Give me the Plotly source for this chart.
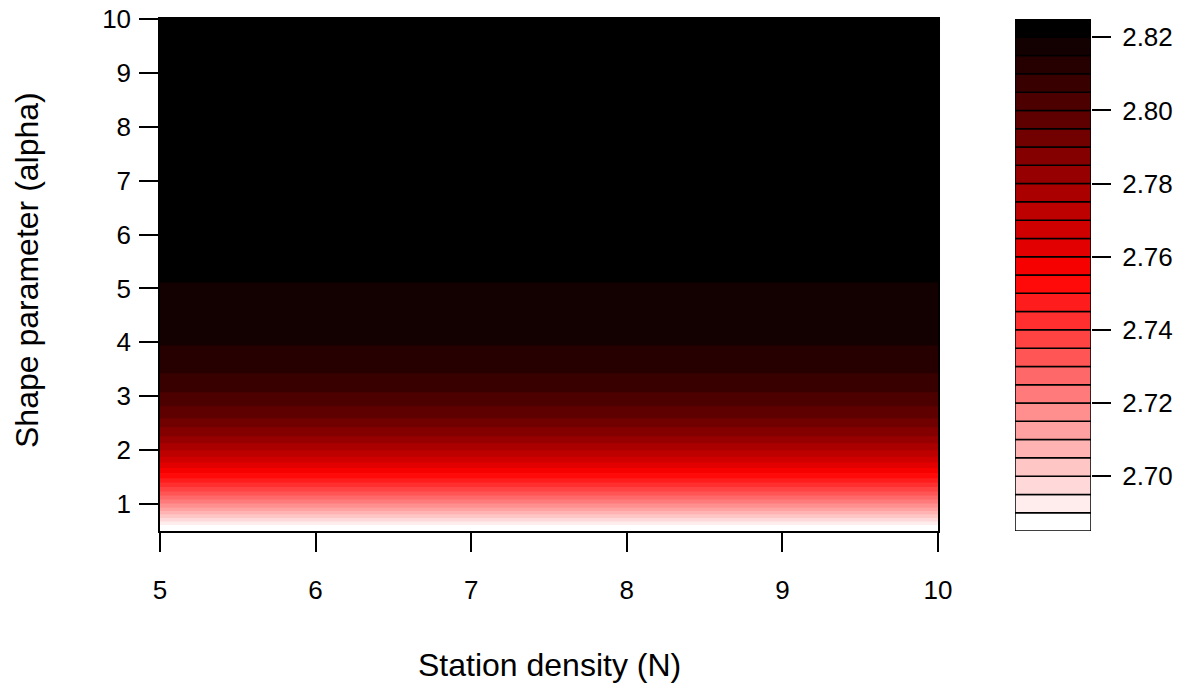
import plotly.graph_objects as go

# ---- data ----
station_density = [5, 6, 7, 8, 9, 10]
alpha = [0.5, 0.611, 0.676, 0.741, 0.806, 0.870, 0.935, 1.009, 1.083, 1.157,
         1.231, 1.315, 1.398, 1.481, 1.574, 1.667, 1.769, 1.880, 2.000, 2.130,
         2.259, 2.426, 2.593, 2.815, 3.074, 3.426, 3.944, 5.111, 6.0, 8.0, 10.0]
value = [2.6865, 2.690, 2.695, 2.700, 2.705, 2.710, 2.715, 2.720, 2.725, 2.730,
         2.735, 2.740, 2.745, 2.750, 2.755, 2.760, 2.765, 2.770, 2.775, 2.780,
         2.785, 2.790, 2.795, 2.800, 2.805, 2.810, 2.815, 2.820, 2.8215, 2.8228, 2.8235]
level_start, level_end, level_step = 2.685, 2.825, 0.005
key_ticks = [2.70, 2.72, 2.74, 2.76, 2.78, 2.80, 2.82]
x_ticks = [5, 6, 7, 8, 9, 10]
y_ticks = [1, 2, 3, 4, 5, 6, 7, 8, 9, 10]

# ---- palette: white -> red -> black ----
nbins = int(round((level_end - level_start) / level_step))
def ramp(t):
    if t <= 0.5:
        g = 255 * (1 - 2 * t)
        return (255, g, g)
    r = 255 * (2 - 2 * t)
    return (r, 0, 0)
colors = ['rgb(%d,%d,%d)' % tuple(int(round(c)) for c in ramp(i / (nbins - 1))) for i in range(nbins)]
colorscale = [[i / (nbins - 1), colors[i]] for i in range(nbins)]

z = [[v for _ in station_density] for v in value]

W, H = 1201, 686
FONT = "Liberation Sans, Arial, sans-serif"
FS_TITLE = 32
FS_TICK = 26

def px_x(p):
    return p / W
def px_y(p):
    return 1 - p / H

fig = go.Figure()
fig.add_trace(go.Contour(
    x=station_density, y=alpha, z=z,
    autocontour=False,
    contours=dict(start=level_start + level_step, end=level_end - level_step,
                  size=level_step, coloring='fill', showlines=False),
    line=dict(width=0),
    colorscale=colorscale, showscale=False, hoverinfo='skip',
    xaxis='x', yaxis='y'))

# key (colour legend)
levels = [level_start + i * level_step for i in range(nbins)]
fig.add_trace(go.Bar(
    x=[0] * nbins, y=[level_step] * nbins, base=levels, width=1,
    marker=dict(color=colors, line=dict(color='black', width=1.5)),
    xaxis='x2', yaxis='y2', hoverinfo='skip', showlegend=False))

axis_common = dict(showline=True, linecolor='black', linewidth=1.5, mirror=True,
                   ticks='outside', ticklen=19, tickwidth=1.5, tickcolor='black',
                   showgrid=False, zeroline=False, automargin=False,
                   tickfont=dict(family=FONT, size=FS_TICK, color='black'))

fig.update_layout(
    width=W, height=H, autosize=False,
    margin=dict(l=0, r=0, t=0, b=0, pad=0, autoexpand=False),
    paper_bgcolor='white', plot_bgcolor='white',
    showlegend=False, barmode='overlay',
    xaxis=dict(domain=[px_x(160), px_x(938)], range=[5, 10], tickvals=x_ticks,
               ticklabelstandoff=16, anchor='y', **axis_common),
    yaxis=dict(domain=[px_y(531), px_y(19)], range=[0.5, 10], tickvals=y_ticks,
               ticklabelstandoff=3, anchor='x', **axis_common),
    xaxis2=dict(domain=[px_x(1015), px_x(1091)], range=[-0.5, 0.5], anchor='y2',
                showticklabels=False, ticks='', showline=False, showgrid=False, zeroline=False),
    yaxis2=dict(domain=[px_y(531), px_y(19)], range=[level_start, level_end], anchor='x2',
                side='right', tickvals=key_ticks, tickformat='.2f', automargin=False,
                showline=False, ticks='outside', ticklen=19, tickwidth=1.5, tickcolor='black',
                ticklabelstandoff=6, showgrid=False, zeroline=False,
                tickfont=dict(family=FONT, size=FS_TICK, color='black')),
    annotations=[
        dict(text='Station density (N)', xref='paper', yref='paper',
             x=px_x(549), y=px_y(665), xanchor='center', yanchor='middle', showarrow=False,
             font=dict(family=FONT, size=FS_TITLE, color='black')),
        dict(text='Shape parameter (alpha)', xref='paper', yref='paper',
             x=px_x(27), y=px_y(270), xanchor='center', yanchor='middle',
             showarrow=False, textangle=-90,
             font=dict(family=FONT, size=FS_TITLE, color='black')),
    ],
)

fig.write_html("out.html", config={'responsive': False, 'displayModeBar': False},
               post_script="document.body.style.margin='0';document.body.style.overflow='hidden';")
